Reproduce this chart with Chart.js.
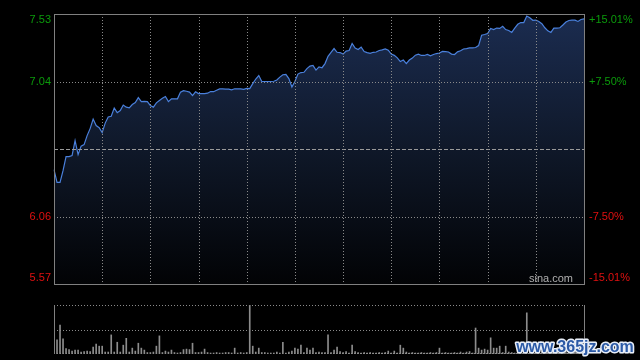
<!DOCTYPE html>
<html lang="zh">
<head>
  <meta charset="UTF-8">
  <title>分时图</title>
  <script src="https://cdn.jsdelivr.net/npm/chart.js"></script>
  <style>
    html, body { margin: 0; padding: 0; background: #000; }
    #wrap { position: relative; width: 640px; height: 360px; overflow: hidden; }
    canvas { position: absolute; left: 0; }
    #priceChart { top: 0; }
    #volChart { top: 290px; }
  </style>
</head>
<body>
  <div id="wrap">
    <canvas id="priceChart" width="640" height="290"></canvas>
    <canvas id="volChart" width="640" height="70"></canvas>
  </div>
  <script>
    // price axis
    const prevClose = 6.55;
    const priceTicks = [7.53, 7.04, 6.06, 5.57];
    const pctTicks = ['+15.01%', '+7.50%', '-7.50%', '-15.01%'];

    // intraday price, one sample per slot (177 slots, 11 grid sections of 16)
    const prices = [
      6.400, 6.308, 6.308, 6.393, 6.495, 6.495, 6.502, 6.611, 6.509, 6.571,
      6.582, 6.647, 6.698, 6.767, 6.720, 6.705, 6.669, 6.738, 6.783, 6.788,
      6.847, 6.814, 6.829, 6.869, 6.854, 6.849, 6.873, 6.887, 6.923, 6.894,
      6.896, 6.894, 6.865, 6.854, 6.885, 6.902, 6.918, 6.931, 6.894, 6.914,
      6.914, 6.914, 6.963, 6.974, 6.969, 6.963, 6.938, 6.965, 6.952, 6.952,
      6.952, 6.955, 6.967, 6.966, 6.977, 6.986, 6.987, 6.984, 6.984, 6.979,
      6.987, 6.987, 6.987, 6.983, 6.990, 6.989, 7.025, 7.058, 7.083, 7.040,
      7.040, 7.040, 7.040, 7.042, 7.051, 7.072, 7.089, 7.092, 7.061, 7.000,
      7.040, 7.094, 7.105, 7.107, 7.134, 7.152, 7.156, 7.123, 7.146, 7.140,
      7.170, 7.223, 7.252, 7.279, 7.252, 7.250, 7.239, 7.261, 7.265, 7.316,
      7.283, 7.272, 7.290, 7.258, 7.250, 7.244, 7.252, 7.254, 7.265, 7.270,
      7.276, 7.267, 7.239, 7.230, 7.212, 7.185, 7.196, 7.170, 7.196, 7.210,
      7.231, 7.239, 7.229, 7.229, 7.236, 7.227, 7.236, 7.243, 7.247, 7.258,
      7.257, 7.254, 7.239, 7.236, 7.255, 7.263, 7.276, 7.279, 7.284, 7.284,
      7.287, 7.301, 7.376, 7.381, 7.388, 7.425, 7.417, 7.428, 7.425, 7.441,
      7.417, 7.410, 7.396, 7.428, 7.455, 7.468, 7.468, 7.515, 7.502, 7.484,
      7.486, 7.476, 7.460, 7.430, 7.408, 7.396, 7.428, 7.428, 7.430, 7.450,
      7.472, 7.483, 7.485, 7.485, 7.476, 7.490, 7.495
    ];

    // volume per slot (panel top = 100)
    const volumes = [
      29, 29, 59, 31, 11, 9, 6, 8, 8, 4,
      5, 6, 5, 14, 20, 16, 16, 4, 4, 39,
      4, 24, 4, 18, 32, 4, 12, 6, 22, 12,
      8, 3, 3, 4, 16, 37, 3, 6, 4, 8,
      3, 2, 3, 9, 10, 9, 22, 3, 3, 4,
      10, 3, 2, 2, 3, 2, 2, 3, 3, 2,
      12, 2, 3, 2, 3, 130, 16, 4, 12, 3,
      3, 2, 2, 2, 4, 2, 24, 2, 4, 6,
      12, 10, 18, 3, 12, 8, 12, 3, 4, 3,
      3, 39, 3, 8, 14, 5, 3, 5, 2, 18,
      5, 3, 2, 3, 2, 3, 2, 2, 3, 2,
      3, 6, 2, 6, 2, 18, 12, 4, 2, 3,
      2, 2, 3, 2, 2, 3, 2, 3, 12, 2,
      3, 2, 2, 3, 2, 4, 2, 4, 5, 2,
      53, 12, 8, 10, 8, 33, 12, 12, 16, 3,
      16, 4, 3, 2, 4, 3, 5, 84, 6, 4,
      5, 3, 6, 4, 3, 5, 4, 3, 6, 4,
      3, 5, 3, 4, 6, 3, 4
    ];

    const slots = prices.map((p, i) => i);
    const sectionLen = 16;

    function hLine(ctx, a, yy, dash, color) {
      ctx.setLineDash(dash);
      ctx.strokeStyle = color;
      ctx.beginPath();
      ctx.moveTo(a.left, yy);
      ctx.lineTo(a.right, yy);
      ctx.stroke();
    }

    const priceDecor = {
      id: 'priceDecor',
      afterDatasetsDraw(chart) {
        const { ctx, chartArea: a, scales: { x, y } } = chart;
        ctx.save();
        ctx.lineWidth = 1;
        // dotted grid
        [7.04, 6.06].forEach(v => {
          hLine(ctx, a, Math.round(y.getPixelForValue(v)) + 0.5, [1, 2], '#8a8a8a');
        });
        hLine(ctx, a, Math.round(y.getPixelForValue(prevClose)) + 0.5, [4, 2], '#9a9a9a');
        ctx.setLineDash([1, 2]);
        ctx.strokeStyle = '#8a8a8a';
        for (let k = 1; k < 11; k++) {
          const xx = Math.round(x.getPixelForValue(k * sectionLen)) + 0.5;
          ctx.beginPath();
          ctx.moveTo(xx, a.top);
          ctx.lineTo(xx, a.bottom);
          ctx.stroke();
        }
        ctx.restore();
      },
      afterDraw(chart) {
        const { ctx, chartArea: a, scales: { y } } = chart;
        ctx.save();
        ctx.strokeStyle = '#808080';
        ctx.lineWidth = 1;
        ctx.strokeRect(a.left + 0.5, a.top + 0.5, a.right - a.left, a.bottom - a.top);

        ctx.font = '11px "Liberation Sans", Arial, sans-serif';
        ctx.textBaseline = 'middle';
        priceTicks.forEach((v, i) => {
          let py = y.getPixelForValue(v);
          py = Math.min(Math.max(py, a.top + 6), a.bottom - 6);
          ctx.fillStyle = v > prevClose ? '#0b9b0b' : '#e01010';
          ctx.textAlign = 'right';
          ctx.fillText(v.toFixed(2), a.left - 3, py);
          ctx.textAlign = 'left';
          ctx.fillText(pctTicks[i], a.right + 5, py);
        });

        ctx.fillStyle = '#b0b0b0';
        ctx.textAlign = 'right';
        ctx.fillText('sina.com', a.right - 11, a.bottom - 5);
        ctx.restore();
      }
    };

    new Chart(document.getElementById('priceChart'), {
      type: 'line',
      data: {
        labels: slots,
        datasets: [{
          data: prices,
          borderColor: '#4a80dc',
          borderWidth: 1.2,
          pointRadius: 0,
          tension: 0,
          fill: 'start',
          backgroundColor: (c) => {
            const { ctx, chartArea } = c.chart;
            if (!chartArea) return 'rgba(0,0,0,0)';
            const g = ctx.createLinearGradient(0, chartArea.top, 0, chartArea.bottom);
            g.addColorStop(0, '#1b2c50');
            g.addColorStop(0.5, '#0f1829');
            g.addColorStop(1, '#020305');
            return g;
          }
        }]
      },
      options: {
        responsive: false,
        animation: false,
        devicePixelRatio: 1,
        layout: { padding: { left: 54, right: 56, top: 14, bottom: 6 } },
        scales: {
          x: { display: false },
          y: { display: false, min: 5.57, max: 7.53 }
        },
        plugins: { legend: { display: false }, tooltip: { enabled: false } }
      },
      plugins: [priceDecor]
    });

    const volDecor = {
      id: 'volDecor',
      beforeDatasetsDraw(chart) {
        const { ctx, chartArea: a } = chart;
        ctx.save();
        ctx.lineWidth = 1;
        hLine(ctx, a, a.top + 0.5, [1, 2], '#8a8a8a');
        hLine(ctx, a, Math.round((a.top + a.bottom) / 2) + 0.5, [1, 2], '#8a8a8a');
        hLine(ctx, a, a.bottom - 0.5, [1, 2], '#8a8a8a');
        ctx.restore();
      },
      afterDraw(chart) {
        const { ctx, chartArea: a } = chart;
        ctx.save();
        ctx.strokeStyle = '#808080';
        ctx.lineWidth = 1;
        ctx.beginPath();
        ctx.moveTo(a.left + 0.5, a.top);
        ctx.lineTo(a.left + 0.5, a.bottom);
        ctx.moveTo(a.right + 0.5, a.top);
        ctx.lineTo(a.right + 0.5, a.bottom);
        ctx.stroke();

        ctx.font = 'bold 16px "Liberation Sans", Arial, sans-serif';
        ctx.textAlign = 'center';
        ctx.textBaseline = 'alphabetic';
        ctx.lineJoin = 'round';
        ctx.lineWidth = 3;
        ctx.strokeStyle = '#e8eef8';
        ctx.strokeText('www.365jz.com', 575, 62);
        ctx.fillStyle = '#2c5aa6';
        ctx.fillText('www.365jz.com', 575, 62);
        ctx.restore();
      }
    };

    new Chart(document.getElementById('volChart'), {
      type: 'bar',
      data: {
        labels: slots,
        datasets: [{
          data: volumes,
          backgroundColor: '#8c8c8c',
          barThickness: 1,
          borderWidth: 0
        }]
      },
      options: {
        responsive: false,
        animation: false,
        devicePixelRatio: 1,
        layout: { padding: { left: 54, right: 56, top: 15, bottom: 6 } },
        scales: {
          x: { display: false, offset: false },
          y: { display: false, min: 0, max: 100 }
        },
        plugins: { legend: { display: false }, tooltip: { enabled: false } }
      },
      plugins: [volDecor]
    });
  </script>
</body>
</html>
